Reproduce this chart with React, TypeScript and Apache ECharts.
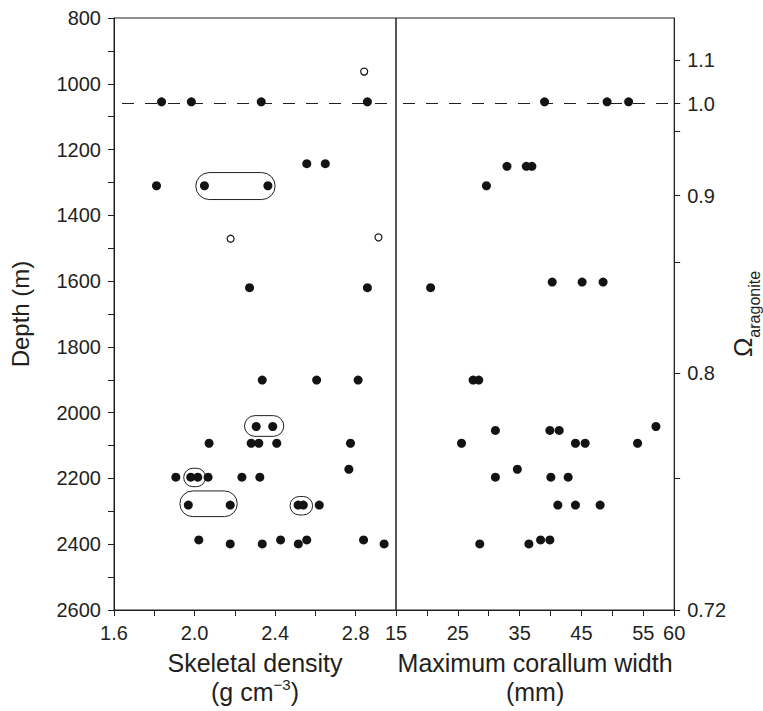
import React, { useEffect, useRef } from "react";
import * as echarts from "echarts";

const INK = "#231f20";
const DOT = "#141213";
const FONT = "'Liberation Sans', Arial, Helvetica, sans-serif";

// Skeletal density (g cm-3) vs depth (m): filled symbols
const densityX = [
  1.836, 1.984, 2.331, 2.858, 2.557, 2.649, 1.811, 2.049, 2.364, 2.273, 2.858,
  2.336, 2.606, 2.812, 2.306, 2.388, 2.072, 2.281, 2.319, 2.408, 2.774, 2.766,
  1.907, 1.981, 2.016, 2.067, 2.235, 2.324, 1.969, 2.177, 2.514, 2.54, 2.619,
  2.021, 2.177, 2.336, 2.427, 2.515, 2.557, 2.839, 2.941,
];
const densityDepth = [
  1055, 1055, 1055, 1055, 1243, 1243, 1310, 1310, 1310, 1620, 1620,
  1901, 1901, 1901, 2042, 2042, 2093, 2093, 2093, 2093, 2093, 2172,
  2196, 2196, 2196, 2196, 2196, 2196, 2281, 2281, 2281, 2281, 2281,
  2387, 2399, 2399, 2387, 2399, 2387, 2387, 2399,
];
// Skeletal density: open symbols
const densityOpenX = [2.842, 2.179, 2.913];
const densityOpenDepth = [963, 1471, 1467];

// Maximum corallum width (mm) vs depth (m)
const widthX = [
  39.03, 49.15, 52.63, 32.95, 36.08, 36.98, 29.63, 20.6, 40.27, 45.11, 48.5,
  27.47, 28.39, 31.08, 39.89, 41.4, 57.05, 25.6, 44.03, 45.6, 54.08, 34.63,
  31.08, 40.05, 42.85, 41.18, 44.03, 48.02, 28.55, 36.5, 38.39, 39.89,
];
const widthDepth = [
  1055, 1055, 1055, 1251, 1251, 1251, 1310, 1620, 1603, 1603, 1603,
  1901, 1901, 2054, 2054, 2054, 2042, 2093, 2093, 2093, 2093, 2172,
  2196, 2196, 2196, 2281, 2281, 2281, 2399, 2399, 2387, 2387,
];

// Grouped (encircled) pairs in the density panel: extents in data units
const groupX1 = [2.006, 2.248, 1.946, 1.927, 2.474];
const groupX2 = [2.4, 2.443, 2.055, 2.212, 2.586];
const groupTop = [1270, 2009, 2169, 2238, 2255];
const groupBottom = [1352, 2072, 2225, 2316, 2311];

// Saturation horizon (Omega = 1)
const horizonDepth = 1060;

// Axis ticks
const depthLabels = [800, 1000, 1200, 1400, 1600, 1800, 2000, 2200, 2400, 2600];
const densityLabels = [1.6, 2.0, 2.4, 2.8];
const widthLabels = [15, 25, 35, 45, 55, 60];
const omegaValues = [1.1, 1.0, 0.95, 0.9, 0.85, 0.8, 0.75, 0.72];
const omegaDepths = [927, 1060, 1144, 1340, 1542, 1879, 2199, 2600];
const omegaLabelled = [1.1, 1.0, 0.9, 0.8, 0.72];

const fmtOmega = (v: number) => {
  const s = v.toFixed(2);
  return s.endsWith("0") ? v.toFixed(1) : s;
};

export default function App() {
  const ref = useRef<HTMLDivElement>(null);
  useEffect(() => {
    if (!ref.current) return;
    const chart = echarts.init(ref.current, null, { renderer: "svg" });
    const labelStyle = { color: INK, fontSize: 20, fontFamily: FONT };
    const omegaLabelDepths = omegaLabelled.map(
      (o) => omegaDepths[omegaValues.indexOf(o)]
    );
    const option: any = {
      animation: false,
      backgroundColor: "#ffffff",
      textStyle: { fontFamily: FONT },
      grid: [
        { left: 114, top: 18, width: 282, height: 597, show: true, borderColor: INK, borderWidth: 1 },
        { left: 396, top: 18, width: 280, height: 597, show: true, borderColor: INK, borderWidth: 1 },
      ],
      xAxis: [
        {
          gridIndex: 0, type: "value", min: 1.6, max: 3.0, interval: 0.2,
          axisLine: { show: true, lineStyle: { color: INK, width: 1 } },
          axisTick: { show: true, inside: false, length: 6, lineStyle: { color: INK } },
          axisLabel: { ...labelStyle, margin: 13, customValues: densityLabels, formatter: (v: number) => v.toFixed(1) },
          splitLine: { show: false },
          name: "Skeletal density\n(g cm{sup|−3})",
          nameLocation: "middle", nameGap: 38,
          nameTextStyle: {
            color: INK, fontSize: 25, fontFamily: FONT, lineHeight: 29,
            rich: { sup: { fontSize: 15, color: INK, fontFamily: FONT, verticalAlign: "top", lineHeight: 29 } },
          },
        },
        {
          gridIndex: 1, type: "value", min: 15, max: 60, interval: 5,
          axisLine: { show: true, lineStyle: { color: INK, width: 1 } },
          axisTick: { show: true, inside: false, length: 6, lineStyle: { color: INK } },
          axisLabel: { ...labelStyle, margin: 13, customValues: widthLabels, formatter: (v: number) => String(v) },
          splitLine: { show: false },
          name: "Maximum corallum width\n(mm)",
          nameLocation: "middle", nameGap: 38,
          nameTextStyle: { color: INK, fontSize: 25, fontFamily: FONT, lineHeight: 29 },
        },
      ],
      yAxis: [
        {
          gridIndex: 0, type: "value", min: 800, max: 2600, interval: 100, inverse: true,
          axisLine: { show: true, lineStyle: { color: INK, width: 1 } },
          axisTick: { show: true, inside: false, length: 6, lineStyle: { color: INK } },
          axisLabel: { ...labelStyle, margin: 13, customValues: depthLabels, formatter: (v: number) => String(v) },
          splitLine: { show: false },
          name: "Depth (m)", nameLocation: "middle", nameRotate: 90, nameGap: 82,
          nameTextStyle: { color: INK, fontSize: 24, fontFamily: FONT },
        },
        {
          gridIndex: 1, type: "value", min: 800, max: 2600, inverse: true, position: "right",
          axisLine: { show: true, lineStyle: { color: INK, width: 1 } },
          axisTick: { show: true, inside: false, length: 6, customValues: omegaDepths, lineStyle: { color: INK } },
          axisLabel: {
            ...labelStyle, margin: 13, customValues: omegaLabelDepths,
            formatter: (v: number) => {
              const i = omegaDepths.indexOf(v);
              return i >= 0 ? fmtOmega(omegaValues[i]) : "";
            },
          },
          splitLine: { show: false },
          name: "{o|Ω}{s|aragonite}", nameLocation: "middle", nameRotate: 90, nameGap: 50,
          nameTextStyle: {
            color: INK, fontFamily: FONT,
            rich: {
              o: { fontSize: 26, color: INK, fontFamily: FONT, lineHeight: 30 },
              s: { fontSize: 16, color: INK, fontFamily: FONT, verticalAlign: "bottom", lineHeight: 30, padding: [0, 0, -4, 0] },
            },
          },
        },
      ],
      series: [
        {
          type: "line", xAxisIndex: 0, yAxisIndex: 0, z: 1, symbol: "none", silent: true,
          data: [[1.6, horizonDepth], [3.0, horizonDepth]],
          lineStyle: { color: INK, width: 1.2, type: [12, 11], dashOffset: 15 },
        },
        {
          type: "line", xAxisIndex: 1, yAxisIndex: 1, z: 1, symbol: "none", silent: true,
          data: [[15, horizonDepth], [60, horizonDepth]],
          lineStyle: { color: INK, width: 1.2, type: [12, 11], dashOffset: 16 },
        },
        {
          type: "custom", xAxisIndex: 0, yAxisIndex: 0, z: 2, silent: true,
          data: groupX1.map((x, i) => [x, groupX2[i], groupTop[i], groupBottom[i]]),
          encode: { x: [0, 1], y: [2, 3] },
          renderItem: (_p: any, api: any) => {
            const a = api.coord([api.value(0), api.value(2)]);
            const b = api.coord([api.value(1), api.value(3)]);
            const h = b[1] - a[1];
            return {
              type: "rect",
              shape: { x: a[0], y: a[1], width: b[0] - a[0], height: h, r: h / 2 },
              style: { fill: "none", stroke: INK, lineWidth: 1 },
            };
          },
        },
        {
          type: "scatter", xAxisIndex: 0, yAxisIndex: 0, z: 3, symbol: "circle", symbolSize: 9,
          itemStyle: { color: DOT, opacity: 1 },
          data: densityX.map((x, i) => [x, densityDepth[i]]),
        },
        {
          type: "scatter", xAxisIndex: 0, yAxisIndex: 0, z: 3, symbol: "circle", symbolSize: 7,
          itemStyle: { color: "#ffffff", borderColor: DOT, borderWidth: 1.2, opacity: 1 },
          data: densityOpenX.map((x, i) => [x, densityOpenDepth[i]]),
        },
        {
          type: "scatter", xAxisIndex: 1, yAxisIndex: 1, z: 3, symbol: "circle", symbolSize: 9,
          itemStyle: { color: DOT, opacity: 1 },
          data: widthX.map((x, i) => [x, widthDepth[i]]),
        },
      ],
    };
    chart.setOption(option);
    return () => chart.dispose();
  }, []);
  return (
    <div
      ref={ref}
      style={{ position: "fixed", left: 0, top: 0, width: 763, height: 711, background: "#fff" }}
    />
  );
}
